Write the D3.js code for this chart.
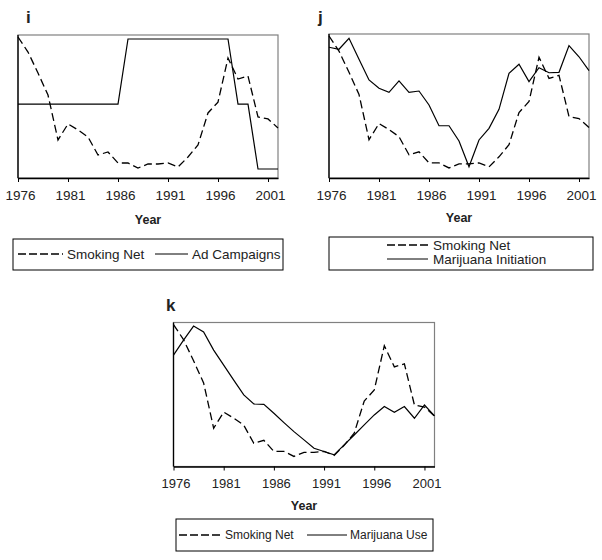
<!DOCTYPE html>
<html><head><meta charset="utf-8">
<script src="https://cdn.jsdelivr.net/npm/d3@7"></script>
<style>body{margin:0;background:#fff;} svg{display:block;font-family:"Liberation Sans",Arial,sans-serif;}</style>
</head><body>
<svg id="chart" width="602" height="560"></svg>
<script>
const years = d3.range(1976, 2003);
const tickYears = [1976, 1981, 1986, 1991, 1996, 2001];
const smokingNet = [0.986,0.881,0.734,0.580,0.266,0.378,0.336,0.287,0.161,0.182,0.105,0.105,0.070,0.098,0.098,0.105,0.077,0.147,0.231,0.455,0.531,0.839,0.692,0.713,0.427,0.413,0.350];
const adCampaigns = [0.517,0.517,0.517,0.517,0.517,0.517,0.517,0.517,0.517,0.517,0.517,0.972,0.972,0.972,0.972,0.972,0.972,0.972,0.972,0.972,0.972,0.972,0.517,0.517,0.063,0.063,0.063];
const marijuanaInitiation = [0.908,0.894,0.970,0.824,0.681,0.623,0.595,0.674,0.595,0.604,0.507,0.363,0.363,0.257,0.078,0.264,0.345,0.477,0.727,0.790,0.669,0.766,0.731,0.734,0.919,0.842,0.745];
const marijuanaUse = [0.774,0.878,0.975,0.935,0.808,0.704,0.600,0.497,0.434,0.432,0.370,0.305,0.242,0.185,0.127,0.104,0.081,0.150,0.219,0.289,0.358,0.416,0.376,0.416,0.335,0.427,0.351];
const panelLabels = ["i", "j", "k"];
const solidNames = ["Ad Campaigns", "Marijuana Initiation", "Marijuana Use"];

const layout = [
  {x0:18, x1:278, y0:35, y1:178, titleX:26, titleY:23, yearY:224, tickFs:13.5,
   legend:{bx:13, by:239, bw:270, bh:31, fs:13.5, rows:[[18,63,254,67],[155,188,254,192]]}},
  {x0:329, x1:589, y0:34, y1:178, titleX:318, titleY:23, yearY:222, tickFs:13.5,
   legend:{bx:329, by:237, bw:264, bh:33, fs:13.5, rows:[[387,428,245,433],[387,428,259,433]]}},
  {x0:173.5, x1:434.5, y0:322.5, y1:466.5, titleX:166, titleY:311, yearY:510, tickFs:13,
   legend:{bx:176, by:519, bw:257, bh:32, fs:12, rows:[[179,222,535,225],[307,347,535,350]]}}
];
const solids = [adCampaigns, marijuanaInitiation, marijuanaUse];
const svg = d3.select("#chart");

layout.forEach((L, i) => {
  const g = svg.append("g");
  const x = d3.scaleLinear().domain([1976, 2002]).range([L.x0, L.x1]);
  const y = d3.scaleLinear().domain([0, 1]).range([L.y1, L.y0]);
  g.append("rect").attr("x", L.x0).attr("y", L.y0).attr("width", L.x1 - L.x0).attr("height", L.y1 - L.y0)
    .attr("fill", "none").attr("stroke", "#808080").attr("stroke-width", 1.2);
  g.append("line").attr("x1", L.x0).attr("x2", L.x0).attr("y1", L.y0).attr("y2", L.y1).attr("stroke", "#000").attr("stroke-width", 1.3);
  const ax = g.append("g").attr("transform", `translate(0,${L.y1})`)
    .call(d3.axisBottom(x).tickValues(tickYears).tickFormat(d3.format("d")).tickSize(4).tickSizeOuter(0).tickPadding(8));
  ax.select(".domain").attr("stroke", "#000").attr("stroke-width", 1.3);
  ax.selectAll(".tick line").attr("stroke", "#000");
  ax.selectAll(".tick text").attr("font-size", L.tickFs).attr("font-family", "Liberation Sans, Arial, sans-serif").attr("fill", "#222").attr("dx", 2);
  g.append("text").attr("x", (L.x0 + L.x1) / 2).attr("y", L.yearY).attr("text-anchor", "middle")
    .attr("font-weight", "bold").attr("font-size", 12.5).attr("fill", "#222").text("Year");
  g.append("text").attr("x", L.titleX).attr("y", L.titleY).attr("font-weight", "bold").attr("font-size", 17).attr("fill", "#222").text(panelLabels[i]);
  const line = d3.line().x((d, k) => x(years[k])).y(d => y(d));
  g.append("path").datum(solids[i]).attr("d", line).attr("fill", "none").attr("stroke", "#000").attr("stroke-width", 1.2);
  g.append("path").datum(smokingNet).attr("d", line).attr("fill", "none").attr("stroke", "#000").attr("stroke-width", 1.3).attr("stroke-dasharray", "8,4");
  const lg = L.legend;
  g.append("rect").attr("x", lg.bx).attr("y", lg.by).attr("width", lg.bw).attr("height", lg.bh).attr("fill", "none").attr("stroke", "#000").attr("stroke-width", 1);
  const names = ["Smoking Net", solidNames[i]];
  lg.rows.forEach((r, k) => {
    g.append("line").attr("x1", r[0]).attr("x2", r[1]).attr("y1", r[2]).attr("y2", r[2]).attr("stroke", "#000")
      .attr("stroke-width", k === 0 ? 1.5 : 1).attr("stroke-dasharray", k === 0 ? "8,3" : null);
    g.append("text").attr("x", r[3]).attr("y", r[2]).attr("dy", "0.35em").attr("font-size", lg.fs).attr("fill", "#222").text(names[k]);
  });
});
</script>
</body></html>
